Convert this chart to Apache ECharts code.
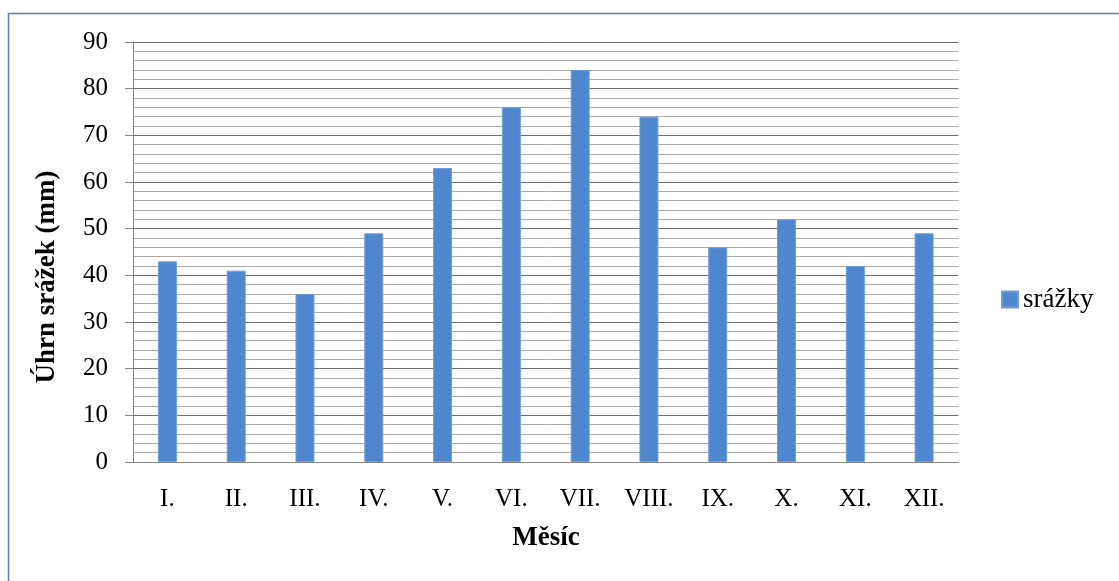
<!DOCTYPE html>
<html>
<head>
<meta charset="utf-8">
<script src="https://cdn.jsdelivr.net/npm/echarts@6/dist/echarts.min.js"></script>
<style>
  html, body { margin: 0; padding: 0; background: #fff; }
  #chart { width: 1119px; height: 581px; }
</style>
</head>
<body>
<div id="chart"></div>
<script>
// Měsíční úhrn srážek
const months = ['I.', 'II.', 'III.', 'IV.', 'V.', 'VI.', 'VII.', 'VIII.', 'IX.', 'X.', 'XI.', 'XII.'];
const srazky = [43, 41, 36, 49, 63, 76, 84, 74, 46, 52, 42, 49];
const seriesName = 'srážky';
const xTitle = 'Měsíc';
const yTitle = 'Úhrn srážek (mm)';

const FONT = '"Liberation Serif", "Times New Roman", serif';

const chart = echarts.init(document.getElementById('chart'), null, { renderer: 'canvas' });

chart.setOption({
  animation: false,
  backgroundColor: '#ffffff',
  grid: { left: 133, top: 42, right: 160.5, bottom: 119, containLabel: false },
  legend: {
    data: [seriesName],
    left: 1001,
    top: 286,
    padding: 0,
    itemWidth: 16,
    itemHeight: 16,
    itemGap: 4,
    icon: 'rect',
    textStyle: { fontFamily: FONT, fontSize: 27, color: '#000', padding: [0, 0, 0, 0] }
  },
  graphic: [
    {
      type: 'rect',
      shape: { x: 8.5, y: 13.5, width: 1200, height: 700 },
      style: { fill: 'none', stroke: '#4f81bd', lineWidth: 1.5 },
      silent: true
    },
    {
      type: 'text',
      x: 546,
      y: 538,
      style: {
        text: xTitle, fontFamily: FONT, fontSize: 27, fontWeight: 'bold', fill: '#000',
        align: 'center', verticalAlign: 'middle'
      }
    },
    {
      type: 'text',
      x: 47,
      y: 277,
      rotation: Math.PI / 2,
      style: {
        text: yTitle, fontFamily: FONT, fontSize: 27, fontWeight: 'bold', fill: '#000',
        align: 'center', verticalAlign: 'middle'
      }
    }
  ],
  xAxis: {
    type: 'category',
    data: months,
    axisLine: { show: true, lineStyle: { color: '#868686', width: 1 } },
    axisTick: { show: false },
    axisLabel: { fontFamily: FONT, fontSize: 25, color: '#000', margin: 25 },
    splitLine: { show: false }
  },
  yAxis: {
    type: 'value',
    min: 0,
    max: 90,
    interval: 10,
    axisLine: { show: true, lineStyle: { color: '#868686', width: 1 } },
    axisTick: { show: true, length: 8, inside: false, lineStyle: { color: '#868686' } },
    axisLabel: { fontFamily: FONT, fontSize: 25, color: '#000', margin: 25 },
    splitLine: { show: true, lineStyle: { color: '#6e6e6e', width: 1 } },
    minorTick: { show: false, splitNumber: 5 },
    minorSplitLine: { show: true, lineStyle: { color: '#ababab', width: 1 } }
  },
  series: [
    {
      name: seriesName,
      type: 'bar',
      data: srazky,
      barWidth: 19,
      itemStyle: { color: '#4f87cf', borderColor: '#6f9ddb', borderWidth: 1 }
    }
  ]
});
</script>
</body>
</html>
